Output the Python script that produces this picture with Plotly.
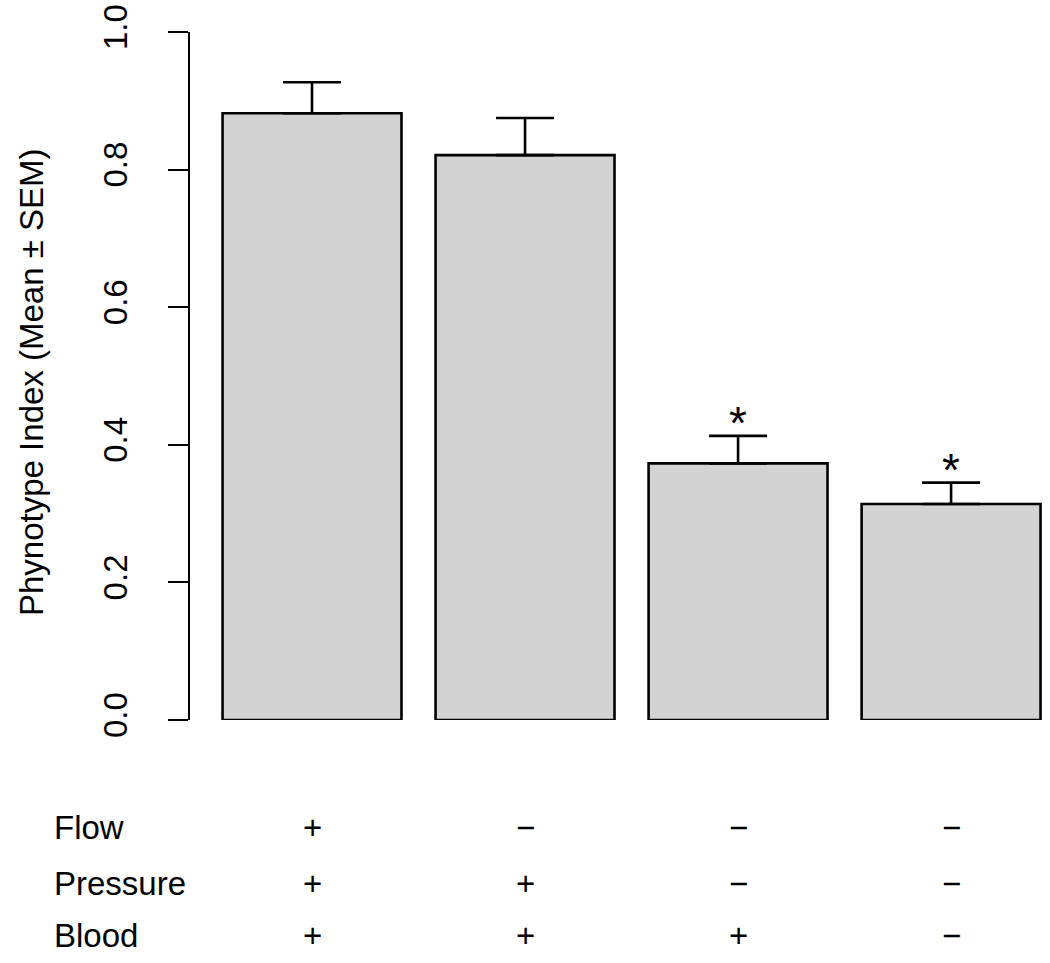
import plotly.graph_objects as go

# Data
groups = ["Flow+Pressure+Blood", "Pressure+Blood", "Blood", "None"]
means = [0.882, 0.821, 0.373, 0.314]
sems = [0.045, 0.054, 0.040, 0.031]
significant = [False, False, True, True]
row_names = ["Flow", "Pressure", "Blood"]
flow = ["+", "\u2212", "\u2212", "\u2212"]
pressure = ["+", "+", "\u2212", "\u2212"]
blood = ["+", "+", "+", "\u2212"]
y_ticks = [0.0, 0.2, 0.4, 0.6, 0.8, 1.0]
y_title = "Phynotype Index (Mean \u00b1 SEM)"

FONT = "Liberation Sans, Arial, Helvetica, sans-serif"
FS = 33

W, H = 1050, 963
# target page pixel positions
AX_X, TOP_Y, BOT_Y, RIGHT_X = 190, 32, 720, 1048
L = AX_X
T = TOP_Y
B = H - BOT_Y
R = W - RIGHT_X
plot_h = H - T - B
plot_w = W - L - R

def paper_y(py):
    return (BOT_Y - py) / plot_h

def paper_x(px):
    return (px - AX_X) / plot_w

fig = go.Figure()
fig.add_trace(go.Bar(
    x=groups, y=means, width=0.84,
    marker=dict(color="#d3d3d3", line=dict(color="black", width=2.6)),
    error_y=dict(type="data", symmetric=False, array=sems,
                 arrayminus=[0] * len(sems), color="black",
                 thickness=2.6, width=29),
    showlegend=False, hoverinfo="skip",
))

annotations = []
# significance stars
for g, m, s, sig in zip(groups, means, sems, significant):
    if sig:
        annotations.append(dict(x=g, y=m + s + 0.018, xref="x", yref="y",
                                text="*", showarrow=False,
                                font=dict(size=46, family=FONT, color="black"),
                                xanchor="center", yanchor="middle"))

# condition table
rows = [flow, pressure, blood]
row_py = [827, 883, 935]
for name, vals, py in zip(row_names, rows, row_py):
    annotations.append(dict(x=paper_x(52), y=paper_y(py), xref="paper", yref="paper",
                            text=name, showarrow=False, xanchor="left", yanchor="middle",
                            font=dict(size=FS, family=FONT, color="black")))
    for g, v in zip(groups, vals):
        annotations.append(dict(x=g, y=paper_y(py), xref="x", yref="paper",
                                text=v, showarrow=False, xanchor="center", yanchor="middle",
                                font=dict(size=FS, family=FONT, color="black")))

# y-axis title
annotations.append(dict(x=paper_x(31), y=paper_y(382), xref="paper", yref="paper",
                        text=y_title, textangle=-90, showarrow=False,
                        xanchor="center", yanchor="middle",
                        font=dict(size=FS, family=FONT, color="black")))

fig.update_layout(
    width=W, height=H,
    margin=dict(l=L, r=R, t=T, b=B, autoexpand=False),
    paper_bgcolor="white", plot_bgcolor="white",
    font=dict(family=FONT, size=FS, color="black"),
    annotations=annotations,
    xaxis=dict(type="category", range=[-0.5728, 3.455], showline=False,
               showticklabels=False, ticks="", showgrid=False, zeroline=False,
               fixedrange=True),
    yaxis=dict(range=[0, 1], tickvals=y_ticks,
               ticktext=[f"{v:.1f}" for v in y_ticks],
               showline=True, linecolor="black", linewidth=2,
               ticks="outside", ticklen=20, tickwidth=2, tickcolor="black",
               tickangle=-90, ticklabelstandoff=28, ticklabeloverflow="allow",
               tickfont=dict(size=FS, family=FONT, color="black"),
               showgrid=False, zeroline=False, fixedrange=True),
)

fig.write_html("out.html", config={"displayModeBar": False},
               post_script="document.body.style.margin='0';document.body.style.overflow='hidden';")
